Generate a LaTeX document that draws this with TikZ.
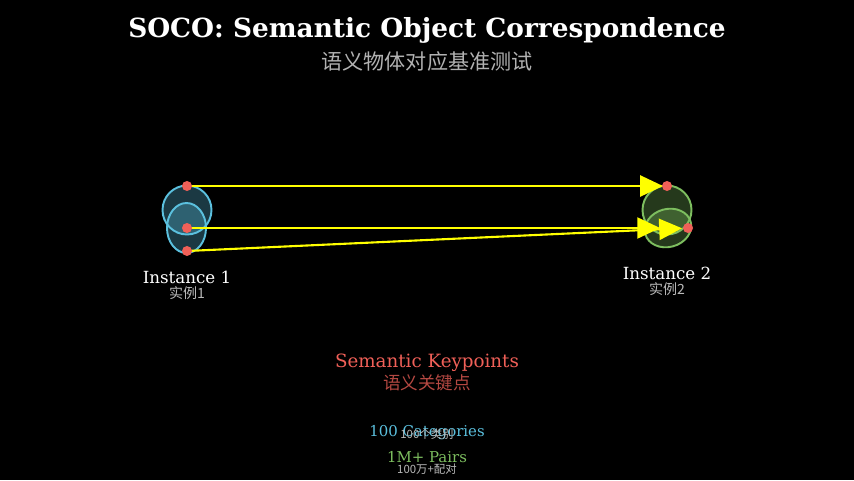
\documentclass[tikz,border=0pt]{standalone}
\usepackage{fontspec}
\setmainfont{DejaVu Serif}
\newfontfamily\cjk{Noto Sans CJK SC}
\usetikzlibrary{arrows.meta, positioning}

\definecolor{kpred}{RGB}{240,96,88}
\definecolor{objcyan}{RGB}{91,192,222}
\definecolor{objgreen}{RGB}{125,190,95}
\definecolor{kpyellow}{RGB}{255,255,0}

\tikzset{
  objshape/.style={line width=1.1pt, fill opacity=0.3},
  kpdot/.style={circle, fill=kpred, inner sep=0pt, minimum size=5.7pt},
  kparrow/.style={line width=1.2pt, kpyellow, -{Triangle[length=13pt, width=12pt]}},
  sublabel/.style={font=\cjk\fontsize{8}{9}\selectfont, text=gray!55},
}

\begin{document}
\begin{tikzpicture}[x=0.02cm, y=-0.02cm]
\useasboundingbox[fill=black] (0,0) rectangle (854,480);

% Title
\node[text=white, font=\bfseries\fontsize{15}{18}\selectfont] (title) at (427,30) {SOCO: Semantic Object Correspondence};
\node[font=\cjk\fontsize{12}{14}\selectfont, text=gray!60] (subtitle) at (427,61) {语义物体对应基准测试};

% Instance 1
\draw[objshape, draw=objcyan, fill=objcyan] (187,210) circle (24.5);
\draw[objshape, draw=objcyan, fill=objcyan] (186.5,228) ellipse (19.5 and 25);
\node[text=white, font=\fontsize{9.5}{11}\selectfont] (inst1) at (187,277) {Instance 1};
\node[sublabel] (inst1zh) at (187,293) {实例1};

% Instance 2
\draw[objshape, draw=objgreen, fill=objgreen] (667,210) circle (24.5);
\draw[objshape, draw=objgreen, fill=objgreen, rotate around={15:(668,228)}] (668,228) ellipse (23.5 and 19);
\node[text=white, font=\fontsize{9.5}{11}\selectfont] (inst2) at (667,273) {Instance 2};
\node[sublabel] (inst2zh) at (667,289) {实例2};

% Keypoints
\coordinate (kpa1) at (187,186);
\coordinate (kpa2) at (187,228);
\coordinate (kpa3) at (187,251);
\coordinate (kpb1) at (667,186);
\coordinate (kpb2) at (665,228);
\coordinate (kpb3) at (688,228);

% Correspondences
\draw[kparrow, shorten >=2.3pt] (kpa1) -- (kpb1);
\draw[kparrow, shorten >=2.8pt] (kpa2) -- (kpb2);
\draw[kparrow, shorten >=3.4pt] (kpa3) -- (kpb3);

\foreach \kp in {kpa1, kpa2, kpa3, kpb1, kpb3}
  \node[kpdot] at (\kp) {};

% Legend
\node[text=kpred, font=\fontsize{10.4}{12}\selectfont] (kplabel) at (427,363) {Semantic Keypoints};
\node[font=\cjk\fontsize{10}{12}\selectfont, text=kpred!75!black] (kplabelzh) at (427,383) {语义关键点};
\node[text=objcyan, font=\fontsize{8.5}{10}\selectfont] (catlabel) at (427,433) {100 Categories};
\node[font=\cjk\fontsize{6.5}{8}\selectfont, text=gray!55] (catlabelzh) at (427,434) {100个类别};
\node[text=objgreen, font=\fontsize{8.5}{10}\selectfont] (pairlabel) at (427,457) {1M+ Pairs};
\node[font=\cjk\fontsize{6.5}{8}\selectfont, text=gray!55] (pairlabelzh) at (427,469) {100万+配对};
\end{tikzpicture}
\end{document}
